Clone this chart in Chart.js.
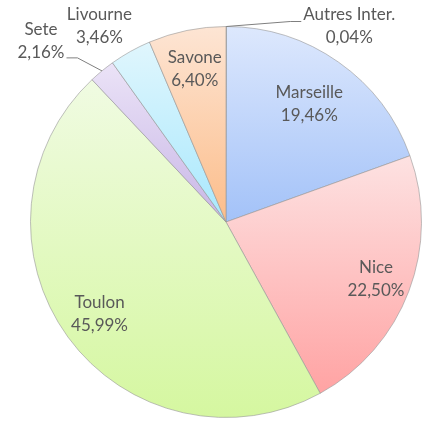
<!DOCTYPE html>
<html>
<head>
<meta charset="utf-8">
<script src="https://cdn.jsdelivr.net/npm/chart.js@4.4.1/dist/chart.umd.min.js"></script>
<style>
    html, body { margin: 0; padding: 0; background: #fff; }
    #wrap { width: 429px; height: 428px; position: relative; }
</style>
</head>
<body>
<div id="wrap"><canvas id="port-chart"></canvas></div>
<script>
const ports = ["Autres Inter.", "Marseille", "Nice", "Toulon", "Sete", "Livourne", "Savone"];
const shares = [0.04, 19.46, 22.50, 45.99, 2.16, 3.46, 6.40];

// gradient colours per slice (top -> bottom)
const topColors = ["#d9d9d9", "#dde8fd", "#fde2e2", "#f0fbe2", "#ebe3f7", "#e0f6fd", "#fde5d4"];
const bottomColors = ["#bfbfbf", "#a3c2f8", "#ffa3a3", "#d5f7a0", "#c8b6e6", "#a8e8fd", "#fcbd8a"];

// label placement: inside at a radius factor, or outside with offset from the slice edge
const labelPlacement = [
    { dx: 123, dy: 0, leader: true },
    { r: 0.74 },
    { r: 0.82 },
    { r: 0.80 },
    { dx: -61, dy: -30, leader: true },
    { dx: -31, dy: -25, leader: false },
    { r: 0.80 }
];

const formatShare = v => v.toFixed(2).replace(".", ",") + "%";

const sliceGradients = {
    id: "sliceGradients",
    beforeDatasetsDraw(chart) {
        const ctx = chart.ctx;
        chart.getDatasetMeta(0).data.forEach((arc, i) => {
            const ys = [arc.y];
            const r = arc.outerRadius;
            [arc.startAngle, arc.endAngle].forEach(a => ys.push(arc.y + r * Math.sin(a)));
            const TAU = Math.PI * 2;
            const contains = a => {
                let s = arc.startAngle, e = arc.endAngle;
                while (a < s) a += TAU;
                return a <= e;
            };
            if (contains(-Math.PI / 2)) ys.push(arc.y - r);
            if (contains(Math.PI / 2)) ys.push(arc.y + r);
            const y0 = Math.min(...ys), y1 = Math.max(...ys);
            const g = ctx.createLinearGradient(0, y0, 0, Math.max(y1, y0 + 1));
            g.addColorStop(0, topColors[i]);
            g.addColorStop(1, bottomColors[i]);
            arc.options.backgroundColor = g;
        });
    }
};

const sliceLabels = {
    id: "sliceLabels",
    afterDatasetsDraw(chart) {
        const ctx = chart.ctx;
        const lineH = 23;
        ctx.save();
        ctx.font = "17px Lato";
        ctx.fillStyle = "#595959";
        ctx.textAlign = "center";
        ctx.textBaseline = "middle";
        chart.getDatasetMeta(0).data.forEach((arc, i) => {
            const mid = (arc.startAngle + arc.endAngle) / 2;
            const R = arc.outerRadius;
            const p = labelPlacement[i];
            let cx, cy;
            if (p.r !== undefined) {
                cx = arc.x + Math.cos(mid) * R * p.r;
                cy = arc.y + Math.sin(mid) * R * p.r;
            } else {
                const ex = arc.x + Math.cos(mid) * R;
                const ey = arc.y + Math.sin(mid) * R;
                cx = ex + p.dx;
                cy = ey + p.dy;
                if (p.leader) {
                    const w = Math.max(ctx.measureText(ports[i]).width, ctx.measureText(formatShare(shares[i])).width);
                    const side = p.dx > 0 ? -1 : 1;
                    const endX = cx + side * (w / 2 + 2);
                    const endY = cy - 5 + (p.dx > 0 ? 0 : 22);
                    ctx.beginPath();
                    ctx.strokeStyle = "#7f7f7f";
                    ctx.lineWidth = 1;
                    ctx.moveTo(ex, ey);
                    ctx.lineTo(endX + side * 11, endY);
                    ctx.lineTo(endX, endY);
                    ctx.stroke();
                }
            }
            ctx.fillText(ports[i], cx, cy - lineH / 2);
            ctx.fillText(formatShare(shares[i]), cx, cy + lineH / 2);
        });
        ctx.restore();
    }
};

new Chart("port-chart", {
    type: "pie",
    data: {
        labels: ports,
        datasets: [{
            data: shares,
            backgroundColor: topColors,
            borderColor: "rgba(150,150,150,0.6)",
            borderWidth: 1
        }]
    },
    options: {
        responsive: true,
        maintainAspectRatio: false,
        animation: false,
        layout: { padding: { left: 30, right: 7, top: 26, bottom: 10 } },
        plugins: {
            legend: { display: false },
            tooltip: { enabled: false }
        }
    },
    plugins: [sliceGradients, sliceLabels]
});
</script>
</body>
</html>
